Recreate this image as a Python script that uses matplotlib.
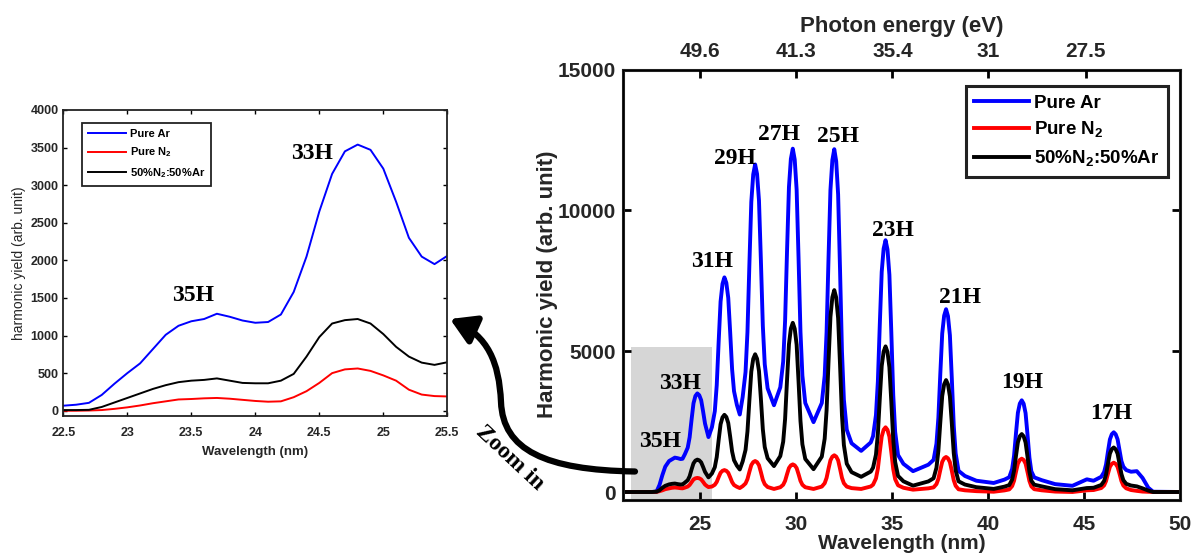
import matplotlib
matplotlib.use("Agg")
import matplotlib.pyplot as plt
from matplotlib.patches import Rectangle, FancyArrowPatch
from matplotlib.path import Path

plt.rcParams["font.family"] = ["Liberation Sans", "DejaVu Sans"]
plt.rcParams["font.weight"] = "bold"
plt.rcParams["mathtext.fontset"] = "custom"
plt.rcParams["mathtext.rm"] = "Liberation Sans:bold"
plt.rcParams["mathtext.bf"] = "Liberation Sans:bold"

# ---- main spectrum, values ----
wl = [21.0, 22.5, 22.75, 22.9, 23.05, 23.2, 23.4, 23.55, 23.7, 23.85, 24.0, 24.1,
      24.22, 24.37, 24.47, 24.57, 24.67, 24.77, 24.87, 24.97, 25.07, 25.17, 25.27, 25.37, 25.45,
      25.63, 25.78, 25.88, 25.98, 26.08, 26.18, 26.28, 26.38, 26.48, 26.58, 26.68, 26.78, 26.93, 27.08,
      27.23, 27.38, 27.48, 27.58, 27.68, 27.78, 27.88, 27.98, 28.08, 28.18, 28.28, 28.38, 28.53, 28.86,
      29.19, 29.34, 29.44, 29.54, 29.64, 29.74, 29.84, 29.94, 30.04, 30.14, 30.24, 30.34, 30.49, 30.92,
      31.35, 31.5, 31.6, 31.7, 31.8, 31.9, 32.0, 32.1, 32.2, 32.3, 32.4, 32.5, 32.65, 32.9, 33.4,
      33.9, 34.02, 34.17, 34.27, 34.37, 34.47, 34.57, 34.67, 34.77, 34.87, 34.97, 35.07, 35.17, 35.32, 35.6, 36.1,
      36.9, 37.17, 37.32, 37.42, 37.52, 37.62, 37.72, 37.82, 37.92, 38.02, 38.12, 38.22, 38.32, 38.47, 38.8, 39.4,
      40.3, 40.86, 41.11, 41.26, 41.36, 41.46, 41.56, 41.66, 41.76, 41.86, 41.96, 42.06, 42.16, 42.26, 42.41, 42.8, 43.5,
      44.4, 45.15, 45.5,
      45.9, 46.05, 46.15, 46.25, 46.35, 46.45, 46.55, 46.65, 46.75, 46.85, 46.95, 47.05, 47.2, 47.45, 47.75, 48.05, 48.35, 48.6, 50.0]
ar = [0, 0, 20, 250, 600, 900, 1100, 1160, 1220, 1200, 1170, 1180,
      1340, 1575, 1945, 2570, 3150, 3410, 3500, 3436, 3260, 2860, 2430, 2170, 1950,
      2300, 2870, 3790, 5330, 6760, 7390, 7620, 7425, 6890, 5670, 4360, 3580, 3090, 2750,
      3372, 4260, 5680, 8078, 10298, 11275, 11630, 11288, 10348, 8210, 5902, 4534, 3679, 3080,
      3718, 4629, 6086, 8546, 10824, 11826, 12190, 11802, 10734, 8306, 5684, 4131, 3160, 2480,
      3158, 4127, 5678, 8294, 10717, 11782, 12170, 11742, 10564, 7886, 4994, 3281, 2210, 1730, 1460,
      1760, 1984, 2732, 3928, 5948, 7818, 8641, 8940, 8612, 7710, 5660, 3446, 2134, 1314, 1000, 740,
      970, 1142, 1717, 2637, 4190, 5627, 6260, 6490, 6243, 5564, 4022, 2356, 1369, 752, 570, 400,
      320, 440, 525, 819, 1289, 2081, 2815, 3138, 3255, 3134, 2800, 2041, 1222, 736, 520, 420, 280,
      220, 450, 400,
      540, 710, 980, 1440, 1865, 2052, 2120, 2050, 1870, 1480, 1100, 900, 780, 720, 740, 500, 150, 10, 0]
mix = [0, 0, 10, 60, 150, 220, 270, 290, 300, 280, 265, 270,
       332, 420, 560, 800, 1018, 1115, 1150, 1124, 1052, 890, 715, 610, 520,
       657, 881, 1239, 1844, 2404, 2650, 2740, 2662, 2449, 1964, 1440, 1130, 936, 800,
       1086, 1495, 2150, 3254, 4277, 4726, 4890, 4731, 4295, 3302, 2230, 1595, 1198, 920,
       1276, 1785, 2598, 3972, 5243, 5803, 6006, 5798, 5227, 3928, 2525, 1693, 1174, 810,
       1255, 1891, 2908, 4625, 6214, 6914, 7168, 6903, 6174, 4517, 2727, 1667, 1004, 705, 540,
       725, 864, 1327, 2068, 3318, 4476, 4985, 5170, 4972, 4428, 3192, 1858, 1066, 572, 380, 226,
       376, 488, 863, 1463, 2474, 3411, 3823, 3973, 3819, 3394, 2428, 1385, 767, 380, 265, 170,
       110, 190, 246, 441, 753, 1278, 1765, 1979, 2057, 1977, 1757, 1258, 719, 400, 260, 200, 100,
       60, 140, 150,
       250, 393, 622, 1008, 1366, 1523, 1580, 1520, 1360, 1000, 640, 420, 290, 230, 200, 130, 50, 0, 0]
n2 = [0, 0, 5, 30, 60, 100, 130, 150, 160, 150, 135, 130,
      156, 193, 252, 352, 445, 485, 500, 486, 448, 360, 265, 210, 175,
      194, 257, 357, 527, 684, 753, 778, 752, 682, 523, 351, 248, 185, 140,
      207, 303, 457, 716, 956, 1062, 1100, 1060, 951, 703, 435, 277, 177, 108,
      169, 256, 396, 632, 850, 946, 981, 946, 850, 632, 396, 256, 169, 108,
      192, 311, 503, 826, 1125, 1256, 1304, 1256, 1125, 826, 503, 311, 192, 138, 108,
      196, 261, 480, 831, 1422, 1970, 2210, 2297, 2208, 1965, 1411, 814, 455, 238, 150, 83,
      130, 164, 280, 466, 780, 1070, 1198, 1244, 1195, 1059, 750, 417, 220, 96, 60, 30,
      10, 57, 92, 210, 397, 714, 1008, 1137, 1184, 1137, 1006, 710, 391, 201, 100, 60, 15,
      0, 60, 70,
      140, 235, 390, 652, 894, 1001, 1040, 1000, 890, 650, 390, 230, 130, 70, 40, 15, 5, 0, 0]

harm_labels = ["35H", "33H", "31H", "29H", "27H", "25H", "23H", "21H", "19H", "17H"]
harm_x = [22.93, 23.97, 25.62, 26.83, 29.14, 32.18, 35.04, 38.55, 41.76, 46.44]
harm_y = [1790, 3860, 8180, 11850, 12680, 12610, 9280, 6900, 3880, 2790]

energy_ticks = [49.6, 41.3, 35.4, 31, 27.5]

# ---- zoomed region (22.5-25.5 nm) ----
z_wl = [22.5, 22.6, 22.7, 22.8, 22.9, 23.0, 23.1, 23.2, 23.3, 23.4, 23.5, 23.6, 23.7, 23.8,
        23.9, 24.0, 24.1, 24.2, 24.3, 24.4, 24.5, 24.6, 24.7, 24.8, 24.9, 25.0, 25.1, 25.2,
        25.3, 25.4, 25.5]
z_ar = [67, 80, 105, 210, 360, 500, 630, 820, 1010, 1130, 1190, 1220, 1290, 1250,
        1200, 1170, 1180, 1280, 1580, 2050, 2650, 3150, 3450, 3540, 3470, 3220, 2780, 2300,
        2050, 1950, 2060]
z_mix = [9, 9, 12, 50, 110, 170, 230, 290, 340, 380, 400, 410, 430, 400,
         370, 365, 365, 400, 490, 720, 980, 1160, 1205, 1220, 1160, 1020, 850, 720,
         640, 610, 645]
z_n2 = [0, 0, 3, 9, 25, 45, 70, 100, 125, 150, 156, 165, 170, 160,
        145, 130, 120, 125, 180, 260, 370, 500, 550, 562, 530, 470, 400, 280,
        215, 195, 190]

BLUE, RED = "#0000ff", "#ff0000"
TXT = "#262626"
W, H = 1198, 554

fig = plt.figure(figsize=(W / 100, H / 100), dpi=100)

# main axes
ax = fig.add_axes([623 / W, 1 - 500 / H, (1180 - 623) / W, (500 - 69.5) / H])
ax.add_patch(Rectangle((21.42, -300), 4.2, 5460, facecolor="#d6d6d6", edgecolor="none", zorder=0))
ax.plot(wl, ar, color=BLUE, lw=2.8, label="Pure Ar")
ax.plot(wl, n2, color=RED, lw=2.8, label=r"Pure N$_{\mathbf{2}}$")
ax.plot(wl, mix, color="black", lw=2.8, label=r"50%N$_{\mathbf{2}}$:50%Ar")
ax.set_xlim(21, 50)
ax.set_ylim(-284, 15000)
ax.set_xticks([25, 30, 35, 40, 45, 50])
ax.set_yticks([0, 5000, 10000, 15000])
ax.tick_params(direction="in", length=6, width=2, labelsize=15, right=True, labelcolor=TXT)
ax.tick_params(axis="x", pad=11)
ax.tick_params(axis="y", pad=5)
for s in ax.spines.values():
    s.set_linewidth(2.2)
    s.set_color("#222222")
ax.set_xlabel("Wavelength (nm)", fontsize=15, fontweight="bold", labelpad=0, color=TXT)
ax.set_ylabel("Harmonic yield (arb. unit)", fontsize=16, fontweight="bold", labelpad=0, color=TXT)
for lab, x, y in zip(harm_labels, harm_x, harm_y):
    ax.text(x, y, lab, ha="center", va="center", fontsize=17, fontweight="bold",
            family="Liberation Serif")
leg = ax.legend(loc="upper right", bbox_to_anchor=(0.9785, 0.9617), borderaxespad=0,
                fontsize=13.5, handlelength=2.9, handletextpad=0.3, labelspacing=0.45,
                borderpad=0.45, fancybox=False, edgecolor="#222222", framealpha=1)
leg.get_frame().set_linewidth(2.2)

top = ax.twiny()
top.set_xlim(ax.get_xlim())
top.set_xticks([1240 / e for e in energy_ticks])
top.set_xticklabels([f"{e:g}" for e in energy_ticks])
top.tick_params(direction="in", length=6, width=2, labelsize=15, pad=6, labelcolor=TXT)
top.set_xlabel("Photon energy (eV)", fontsize=16, fontweight="bold", labelpad=7, color=TXT)

# inset axes
ins = fig.add_axes([63.3 / W, 1 - 416 / H, (447.3 - 63.3) / W, (416 - 110) / H])
ins.plot(z_wl, z_ar, color=BLUE, lw=1.4, label="Pure Ar")
ins.plot(z_wl, z_n2, color=RED, lw=1.4, label=r"Pure N$_{\mathbf{2}}$")
ins.plot(z_wl, z_mix, color="black", lw=1.4, label=r"50%N$_{\mathbf{2}}$:50%Ar")
ins.set_xlim(22.5, 25.5)
ins.set_ylim(-70, 4000)
ins.set_xticks([22.5, 23, 23.5, 24, 24.5, 25, 25.5])
ins.set_xticklabels(["22.5", "23", "23.5", "24", "24.5", "25", "25.5"])
ins.set_yticks(range(0, 4001, 500))
ins.tick_params(direction="in", length=3, width=1, labelsize=9, top=True, right=True,
                labelcolor=TXT)
ins.tick_params(axis="x", pad=8)
ins.tick_params(axis="y", pad=3.5)
for s in ins.spines.values():
    s.set_linewidth(1.3)
    s.set_color("#222222")
ins.set_xlabel("Wavelength (nm)", fontsize=9.5, fontweight="bold", labelpad=5, color=TXT)
ins.set_ylabel("harmonic yield (arb. unit)", fontsize=10, fontweight="normal", labelpad=3, color=TXT)
ins.text(24.44, 3420, "33H", ha="center", va="center", fontsize=17, fontweight="bold",
         family="Liberation Serif")
ins.text(23.51, 1530, "35H", ha="center", va="center", fontsize=17, fontweight="bold",
         family="Liberation Serif")
ileg = ins.legend(loc="upper left", bbox_to_anchor=(0.049, 0.958), borderaxespad=0,
                  fontsize=8, handlelength=3.4, handletextpad=0.35, labelspacing=0.6,
                  borderpad=0.55, fancybox=False, edgecolor="#222222", framealpha=1)
ileg.get_frame().set_linewidth(1.3)

# curved "Zoom in" arrow, in figure pixels
verts = [(635, 471.5), (545, 470), (503, 450), (501, 402),
         (499, 362), (488, 336), (450, 319)]
verts = [(x / W, 1 - y / H) for x, y in verts]
codes = [Path.MOVETO] + [Path.CURVE4] * 6
arrow = FancyArrowPatch(path=Path(verts, codes), arrowstyle="-|>,head_length=15,head_width=9",
                        lw=4.5, color="black", transform=fig.transFigure, mutation_scale=1)
fig.patches.append(arrow)
fig.text(510 / W, 1 - 458 / H, "Zoom in", rotation=-43, ha="center", va="center",
         fontsize=17, fontweight="bold", family="Liberation Serif")

fig.savefig("out.png", dpi=100)
